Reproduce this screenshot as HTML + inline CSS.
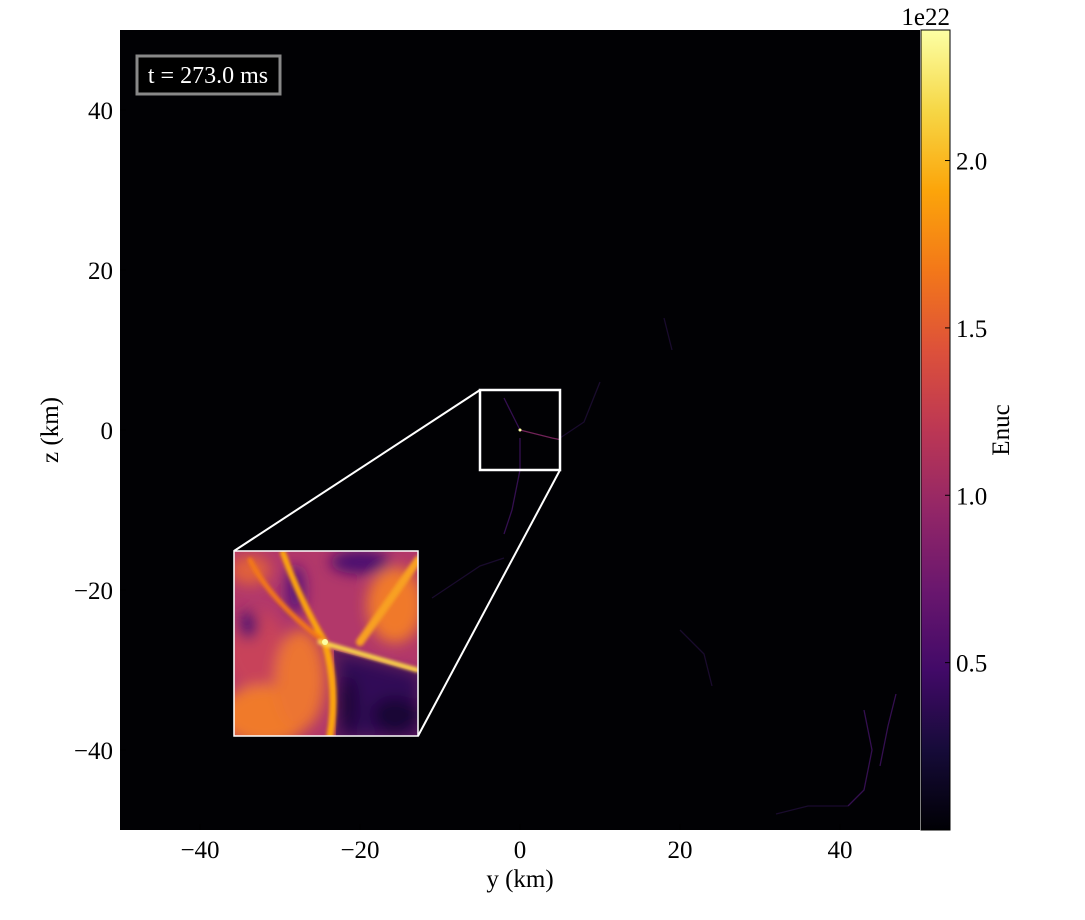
<!DOCTYPE html>
<html><head><meta charset="utf-8"><style>
body{margin:0;background:#fff;}
svg{display:block;font-family:"Liberation Serif",serif;}
</style></head><body>
<svg id="chart" width="1085" height="920" viewBox="0 0 1085 920" xmlns="http://www.w3.org/2000/svg">
<defs>
<linearGradient id="inferno" x1="0" y1="1" x2="0" y2="0">
<stop offset="0" stop-color="#000004"/><stop offset="0.1" stop-color="#160b39"/>
<stop offset="0.2" stop-color="#420a68"/><stop offset="0.3" stop-color="#6a176e"/>
<stop offset="0.4" stop-color="#932667"/><stop offset="0.5" stop-color="#bc3754"/>
<stop offset="0.6" stop-color="#dd513a"/><stop offset="0.7" stop-color="#f37819"/>
<stop offset="0.8" stop-color="#fca50a"/><stop offset="0.9" stop-color="#f6d746"/>
<stop offset="1" stop-color="#fcffa4"/></linearGradient>
<filter id="blur8"><feGaussianBlur stdDeviation="7"/></filter>
<filter id="blur2"><feGaussianBlur stdDeviation="1.5"/></filter>
<clipPath id="insetClip"><rect x="234" y="551" width="184" height="185"/></clipPath>
</defs>
<rect x="120" y="30" width="800" height="800" fill="#010104"/>
<g id="filaments"></g>
<g id="axes"></g>
<g clip-path="url(#insetClip)">
<rect x="234" y="551" width="184" height="185" fill="#b2386a"/>
<g filter="url(#blur8)">
<ellipse cx="255" cy="650" rx="30" ry="40" fill="#c8425a"/>
<ellipse cx="265" cy="715" rx="45" ry="30" fill="#f07a2c"/>
<ellipse cx="300" cy="680" rx="25" ry="50" fill="#ec7430"/>
<ellipse cx="395" cy="605" rx="28" ry="38" fill="#f0792a"/>
<ellipse cx="250" cy="570" rx="20" ry="15" fill="#e0603a"/>
<ellipse cx="295" cy="590" rx="10" ry="25" fill="#5a137a"/>
<ellipse cx="248" cy="625" rx="10" ry="14" fill="#4a0f70"/>
<ellipse cx="360" cy="562" rx="30" ry="12" fill="#4a0f70"/>
<polygon points="340,655 418,675 418,736 340,736" fill="#3a0b5e"/>
<ellipse cx="395" cy="715" rx="25" ry="20" fill="#06040f"/>
<ellipse cx="350" cy="705" rx="10" ry="30" fill="#0a0618"/>
</g>
<polygon points="334,650 418,672 418,736 336,736" fill="#2c0a52" opacity="0.6"/>
<g fill="none" stroke-linecap="round" filter="url(#blur2)">
<path d="M283,553 Q300,600 325,642" stroke="#fca50a" stroke-width="6"/>
<path d="M250,560 Q270,600 322,640" stroke="#f37819" stroke-width="5"/>
<path d="M325,643 Q338,690 330,736" stroke="#fca50a" stroke-width="7"/>
<path d="M360,642 Q390,600 418,560" stroke="#f8a020" stroke-width="8"/>
<path d="M320,642 L417,670" stroke="#fbd548" stroke-width="5"/>
</g>
<circle cx="325" cy="642" r="3" fill="#fcffa4"/>
</g>
<rect x="234" y="551" width="184" height="185" fill="none" stroke="#fff" stroke-width="1.5"/>
<rect x="480" y="390" width="80" height="80" fill="none" stroke="#fff" stroke-width="2.5"/>
<line x1="234" y1="551" x2="480" y2="390" stroke="#fff" stroke-width="2"/>
<line x1="418" y1="736" x2="560" y2="470" stroke="#fff" stroke-width="2"/>
<g>
<rect x="137" y="56" width="143" height="38" fill="#000" stroke="#888" stroke-width="3"/>
<text x="208" y="83" fill="#fff" font-size="24" text-anchor="middle">t = 273.0 ms</text>
</g>
<rect x="921" y="30" width="29" height="800" fill="url(#inferno)" stroke="#000" stroke-width="1"/>
<g id="cbticks"></g>
<text x="950" y="25" font-size="25" text-anchor="end">1e22</text>
<text transform="translate(1009,430) rotate(-90)" font-size="25" text-anchor="middle">Enuc</text>
<text x="520" y="887" font-size="25" text-anchor="middle">y  (km)</text>
<text transform="translate(58,430) rotate(-90)" font-size="25" text-anchor="middle">z  (km)</text>
</svg>
<script>
const xTicks=[-40,-20,0,20,40];
const yTicks=[-40,-20,0,20,40];
const cbTicks=[0.5,1.0,1.5,2.0];
const cbMax=2.39;
const filamentPaths=[
 [[0,0],[2,-0.5],[4,-1],[5,-1.2]],
 [[0,0],[-1,2],[-2,4]],
 [[0,-1],[0,-5],[-1,-10],[-2,-13]],
 [[-2,-16],[-5,-17],[-8,-19],[-11,-21]],
 [[43,-35],[44,-40],[43,-45],[41,-47]],
 [[41,-47],[36,-47],[32,-48]],
 [[47,-33],[46,-37],[45,-42]],
 [[20,-25],[23,-28],[24,-32]],
 [[18,14],[19,10]],
 [[5,-1],[8,1],[10,6]]
];
const filamentVals=[1.0,0.5,0.6,0.4,0.7,0.4,0.5,0.2,0.2,0.35];
const sx=v=>520+v*8, sy=v=>430-v*8, cy=v=>830-v/cbMax*800;
const NS="http://www.w3.org/2000/svg";
const ax=document.getElementById('axes');
function mk(t,a,p){const e=document.createElementNS(NS,t);for(const k in a)e.setAttribute(k,a[k]);p.appendChild(e);return e;}
const fg=document.getElementById('filaments');
filamentPaths.forEach((pts,i)=>{
 const v=filamentVals[i]/cbMax;
 const col=v>0.35?'#a0307a':(v>0.18?'#4a1670':'#24103e');
 const p=mk('path',{d:'M'+pts.map(q=>sx(q[0])+','+sy(q[1])).join(' L'),fill:'none',stroke:col,'stroke-width':1.3,opacity:0.7},fg);
 
 
});
const c0=mk('circle',{cx:sx(0),cy:sy(0),r:1.5,fill:'#fcffa4'},fg);


xTicks.forEach(v=>{
 const x=sx(v);
 mk('line',{x1:x,y1:830,x2:x,y2:824,stroke:'#000'},ax);
 const t=mk('text',{x:x,y:858,'font-size':25,'text-anchor':'middle'},ax);
 t.textContent=(v<0?'\u2212'+(-v):v);
 
 
});
yTicks.forEach(v=>{
 const y=sy(v);
 mk('line',{x1:120,y1:y,x2:126,y2:y,stroke:'#000'},ax);
 const t=mk('text',{x:113,y:y+9,'font-size':25,'text-anchor':'end'},ax);
 t.textContent=(v<0?'\u2212'+(-v):v);
 
 
});
const cb=document.getElementById('cbticks');
cbTicks.forEach(v=>{
 const y=cy(v);
 mk('line',{x1:945,y1:y,x2:950,y2:y,stroke:'#000'},cb);
 const t=mk('text',{x:956,y:y+9,'font-size':25},cb);
 t.textContent=v.toFixed(1);
 
 
});
</script>
</body></html>
